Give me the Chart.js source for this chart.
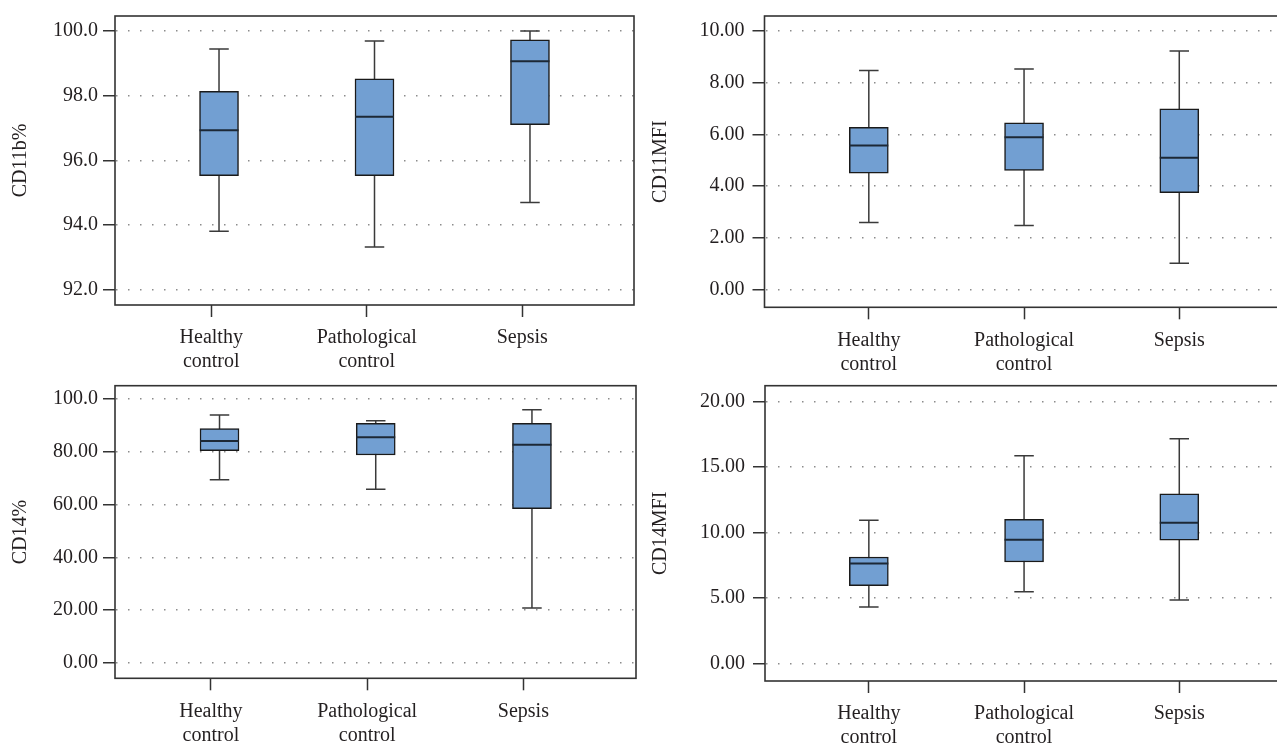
<!DOCTYPE html>
<html>
<head>
<meta charset="utf-8">
<script src="https://cdn.jsdelivr.net/npm/chart.js@4.4.1/dist/chart.umd.min.js"></script>
<style>
  html, body { margin: 0; padding: 0; background: #fff; overflow: hidden; }
  #page { position: relative; width: 1277px; height: 745px; overflow: hidden; }
  canvas { position: absolute; }
</style>
</head>
<body>
<div id="page">
  <canvas id="cd11bPct" width="640" height="375" style="left:0px;top:0px"></canvas>
  <canvas id="cd11Mfi" width="640" height="375" style="left:640px;top:0px"></canvas>
  <canvas id="cd14Pct" width="640" height="370" style="left:0px;top:375px"></canvas>
  <canvas id="cd14Mfi" width="640" height="370" style="left:640px;top:375px"></canvas>
</div>
<script>
const groups = [["Healthy", "control"], ["Pathological", "control"], ["Sepsis"]];

// CD11b%
const cd11bPctLow = [93.81, 93.32, 94.70];
const cd11bPctQ1 = [95.53, 95.53, 97.10];
const cd11bPctMedian = [96.93, 97.35, 99.06];
const cd11bPctQ3 = [98.13, 98.52, 99.72];
const cd11bPctHigh = [99.44, 99.69, 100.0];
const cd11bPctTicks = [92, 94, 96, 98, 100];
const cd11bPctTickLabels = ["92.0", "94.0", "96.0", "98.0", "100.0"];

// CD11MFI
const cd11MfiLow = [2.60, 2.48, 1.02];
const cd11MfiQ1 = [4.50, 4.61, 3.75];
const cd11MfiMedian = [5.57, 5.89, 5.10];
const cd11MfiQ3 = [6.28, 6.45, 6.99];
const cd11MfiHigh = [8.47, 8.53, 9.23];
const cd11MfiTicks = [0, 2, 4, 6, 8, 10];
const cd11MfiTickLabels = ["0.00", "2.00", "4.00", "6.00", "8.00", "10.00"];

// CD14%
const cd14PctLow = [69.44, 65.78, 20.83];
const cd14PctQ1 = [80.43, 78.79, 58.46];
const cd14PctMedian = [84.09, 85.48, 82.70];
const cd14PctQ3 = [88.76, 90.78, 90.78];
const cd14PctHigh = [93.94, 91.79, 95.96];
const cd14PctTicks = [0, 20, 40, 60, 80, 100];
const cd14PctTickLabels = ["0.00", "20.00", "40.00", "60.00", "80.00", "100.0"];

// CD14MFI
const cd14MfiLow = [4.30, 5.47, 4.83];
const cd14MfiQ1 = [5.93, 7.74, 9.41];
const cd14MfiMedian = [7.63, 9.44, 10.74];
const cd14MfiQ3 = [8.12, 10.99, 12.95];
const cd14MfiHigh = [10.92, 15.85, 17.15];
const cd14MfiTicks = [0, 5, 10, 15, 20];
const cd14MfiTickLabels = ["0.00", "5.00", "10.00", "15.00", "20.00"];

const textColor = "#231f20";
Chart.defaults.font.family = "'Liberation Serif', 'Times New Roman', serif";
Chart.defaults.font.size = 20;
Chart.defaults.color = textColor;

// whiskers, medians and the frame round the plot area
const boxParts = {
    id: "boxParts",
    beforeDatasetsDraw(chart) {
        const ds = chart.data.datasets[0];
        const y = chart.scales.y;
        const ctx = chart.ctx;
        ctx.save();
        ctx.strokeStyle = "#3a3a3a";
        ctx.lineWidth = 1.5;
        chart.getDatasetMeta(0).data.forEach((bar, i) => {
            const lo = y.getPixelForValue(ds.whiskerLow[i]);
            const hi = y.getPixelForValue(ds.whiskerHigh[i]);
            const cap = bar.width / 4;
            ctx.beginPath();
            ctx.moveTo(bar.x, lo); ctx.lineTo(bar.x, hi);
            ctx.moveTo(bar.x - cap, lo); ctx.lineTo(bar.x + cap, lo);
            ctx.moveTo(bar.x - cap, hi); ctx.lineTo(bar.x + cap, hi);
            ctx.stroke();
        });
        ctx.restore();
    },
    afterDatasetsDraw(chart) {
        const ds = chart.data.datasets[0];
        const y = chart.scales.y;
        const ctx = chart.ctx;
        ctx.save();
        ctx.strokeStyle = "#1c2836";
        ctx.lineWidth = 2;
        chart.getDatasetMeta(0).data.forEach((bar, i) => {
            const m = y.getPixelForValue(ds.medians[i]);
            ctx.beginPath();
            ctx.moveTo(bar.x - bar.width / 2, m);
            ctx.lineTo(bar.x + bar.width / 2, m);
            ctx.stroke();
        });
        ctx.restore();
    },
    afterDraw(chart) {
        const a = chart.chartArea;
        const ctx = chart.ctx;
        ctx.save();
        ctx.strokeStyle = "#333333";
        ctx.lineWidth = 1.6;
        ctx.strokeRect(a.left, a.top, a.right - a.left, a.bottom - a.top);
        ctx.restore();
    }
};

function boxChart(id, p) {
    new Chart(document.getElementById(id), {
        type: "bar",
        data: {
            datasets: [{
                data: groups.map((g, i) => ({ x: i, y: [p.q1[i], p.q3[i]] })),
                whiskerLow: p.low,
                whiskerHigh: p.high,
                medians: p.median,
                backgroundColor: "#729fd2",
                borderColor: "#1a1a1a",
                borderWidth: 1.5,
                borderSkipped: false,
                barThickness: 39
            }]
        },
        options: {
            responsive: false,
            animation: false,
            layout: { padding: p.pad },
            plugins: { legend: { display: false }, tooltip: { enabled: false } },
            scales: {
                x: {
                    type: "linear",
                    offset: false,
                    min: p.xMin,
                    max: p.xMax,
                    afterBuildTicks: s => { s.ticks = groups.map((g, i) => ({ value: i + p.tickShift })); },
                    afterFit: s => { s.height = p.xHeight; s.paddingLeft = 0; s.paddingRight = 0; },
                    grid: { offset: false, drawOnChartArea: false, tickLength: 12, tickColor: "#333", tickWidth: 1.5 },
                    border: { display: false },
                    ticks: {
                        autoSkip: false, maxRotation: 0, padding: 9,
                        font: { size: 20, lineHeight: 1.2 },
                        callback: (v, i) => groups[i]
                    }
                },
                y: {
                    min: p.yMin,
                    max: p.yMax,
                    afterBuildTicks: s => { s.ticks = p.ticks.map(v => ({ value: v })); },
                    afterFit: s => { s.width = p.yWidth; s.paddingTop = 0; s.paddingBottom = 0; },
                    grid: { color: "#8c8c8c", lineWidth: 1.5, tickLength: 12, tickColor: "#333", tickWidth: 1.5 },
                    border: { display: false, dash: [1.5, 10.5], dashOffset: -1 },
                    ticks: { padding: p.labelGap, callback: (v, i) => p.tickLabels[i] },
                    title: { display: true, text: p.title, font: { size: 20 }, padding: { top: 9, bottom: 0 } }
                }
            }
        },
        plugins: [boxParts]
    });
}

boxChart("cd11bPct", {
    title: "CD11b%", low: cd11bPctLow, q1: cd11bPctQ1, median: cd11bPctMedian, q3: cd11bPctQ3, high: cd11bPctHigh,
    ticks: cd11bPctTicks, tickLabels: cd11bPctTickLabels,
    yMin: 91.53, yMax: 100.46, xMin: -0.669, xMax: 2.669, tickShift: -0.05,
    yWidth: 115, xHeight: 70, labelGap: 5, pad: { left: 0, top: 16, right: 6, bottom: 0 }
});
boxChart("cd11Mfi", {
    title: "CD11MFI", low: cd11MfiLow, q1: cd11MfiQ1, median: cd11MfiMedian, q3: cd11MfiQ3, high: cd11MfiHigh,
    ticks: cd11MfiTicks, tickLabels: cd11MfiTickLabels,
    yMin: -0.68, yMax: 10.58, xMin: -0.672, xMax: 2.636, tickShift: 0,
    yWidth: 124.5, xHeight: 67.7, labelGap: 8, pad: { left: 0, top: 16, right: 2, bottom: 0 }
});
boxChart("cd14Pct", {
    title: "CD14%", low: cd14PctLow, q1: cd14PctQ1, median: cd14PctMedian, q3: cd14PctQ3, high: cd14PctHigh,
    ticks: cd14PctTicks, tickLabels: cd14PctTickLabels,
    yMin: -5.8, yMax: 105.05, xMin: -0.669, xMax: 2.666, tickShift: -0.055,
    yWidth: 115, xHeight: 66.7, labelGap: 5, pad: { left: 0, top: 10.7, right: 4, bottom: 0 }
});
boxChart("cd14Mfi", {
    title: "CD14MFI", low: cd14MfiLow, q1: cd14MfiQ1, median: cd14MfiMedian, q3: cd14MfiQ3, high: cd14MfiHigh,
    ticks: cd14MfiTicks, tickLabels: cd14MfiTickLabels,
    yMin: -1.35, yMax: 21.2, xMin: -0.669, xMax: 2.636, tickShift: 0,
    yWidth: 125, xHeight: 64, labelGap: 8, pad: { left: 0, top: 10.7, right: 2, bottom: 0 }
});
</script>
</body>
</html>
